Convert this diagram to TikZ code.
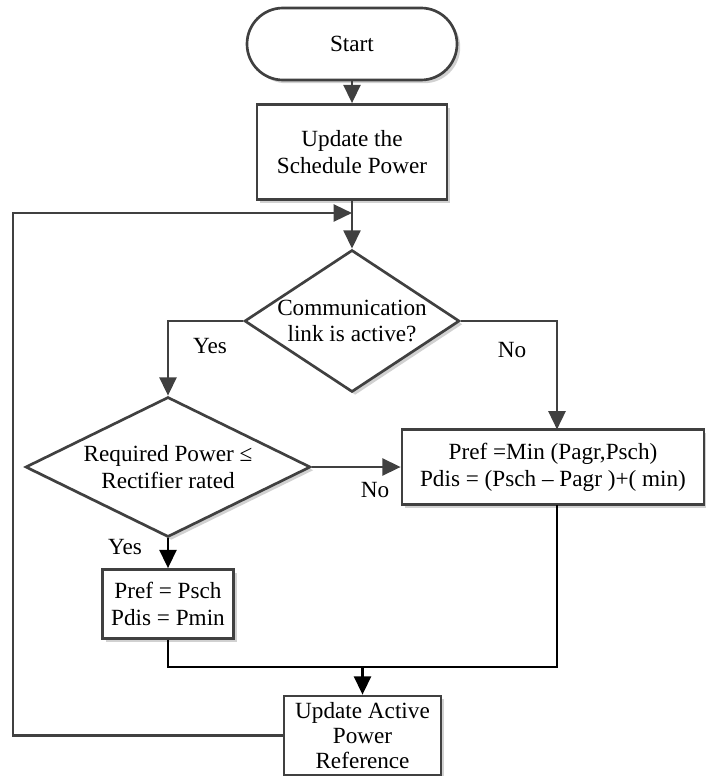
\documentclass[tikz,border=0pt]{standalone}
\usepackage{fontspec}
\setmainfont{Liberation Serif}
\usetikzlibrary{arrows.meta,shapes.geometric,shadows}
\definecolor{linegray}{RGB}{64,64,64}
\begin{document}
\begin{tikzpicture}[
        font=\fontsize{16.5}{19}\selectfont,
        every node/.style={align=center, inner sep=0pt},
        boxnode/.style={draw=linegray, fill=white, line width=1.9pt,
            drop shadow={shadow xshift=0.08cm, shadow yshift=-0.08cm, fill=black!18, opacity=1}},
        decision/.style={boxnode, diamond, aspect=1.5},
        flow/.style={line width=1.9pt, -{Triangle[length=13pt,width=12pt]}},
    ]
        \useasboundingbox (0,0) rectangle (17.65,-19.4);
        \node[boxnode, rounded corners=0.9cm, minimum width=5.25cm, minimum height=1.8cm] (start) at (8.8,-1.1) {Start};
        \node[boxnode, minimum width=4.75cm, minimum height=2.375cm] (sched) at (8.8,-3.8) {Update the\\Schedule Power};
        \node[decision, minimum width=5.375cm, minimum height=3.55cm] (link) at (8.8,-8.025) {Communication\\link is active?};
        \node[decision, aspect=2, minimum width=7.125cm, minimum height=3.5cm] (rated) at (4.2,-11.675) {Required Power ≤\\Rectifier rated};
        \node[boxnode, minimum width=7.55cm, minimum height=1.875cm] (pmin) at (13.825,-11.675) {Pref =Min (Pagr,Psch)\\Pdis = (Psch -- Pagr )+( min)};
        \node[boxnode, minimum width=3.275cm, minimum height=1.725cm] (psch) at (4.2,-15.1) {Pref = Psch\\Pdis = Pmin};
        \node[boxnode, minimum width=3.925cm, minimum height=1.975cm, font=\fontsize{16.5}{17.5}\selectfont] (upd) at (9.0625,-18.3875) {Update Active\\Power\\Reference};
        \node (yes1) at (5.25,-8.65) {Yes};
        \node (no1) at (12.8,-8.75) {No};
        \node (no2) at (9.375,-12.25) {No};
        \node (yes2) at (3.125,-13.675) {Yes};
        \coordinate (loop) at (8.8,-5.325);
        \coordinate (corner) at (0.325,-5.325);
        \coordinate (pminin) at (13.925,-10.7375);
        \coordinate (pminout) at (13.925,-12.6125);
        \coordinate (merge) at (9.0625,-16.675);
        \draw[flow, linegray] (start) -- (sched);
        \draw[flow, linegray] (sched) -- (link);
        \draw[flow, linegray] (link.west) -| (rated.north);
        \draw[flow, linegray] (link.east) -| (pminin);
        \draw[flow, linegray] (rated.east) -- (pmin.west);
        \draw[flow] (rated.south) -- (psch.north);
        \draw[line width=1.9pt] (psch.south) |- (merge) -| (pminout);
        \draw[flow] (merge) -- (upd.north);
        \draw[flow, linegray] (upd.west) -| (corner) -- (loop);
\end{tikzpicture}
\end{document}
